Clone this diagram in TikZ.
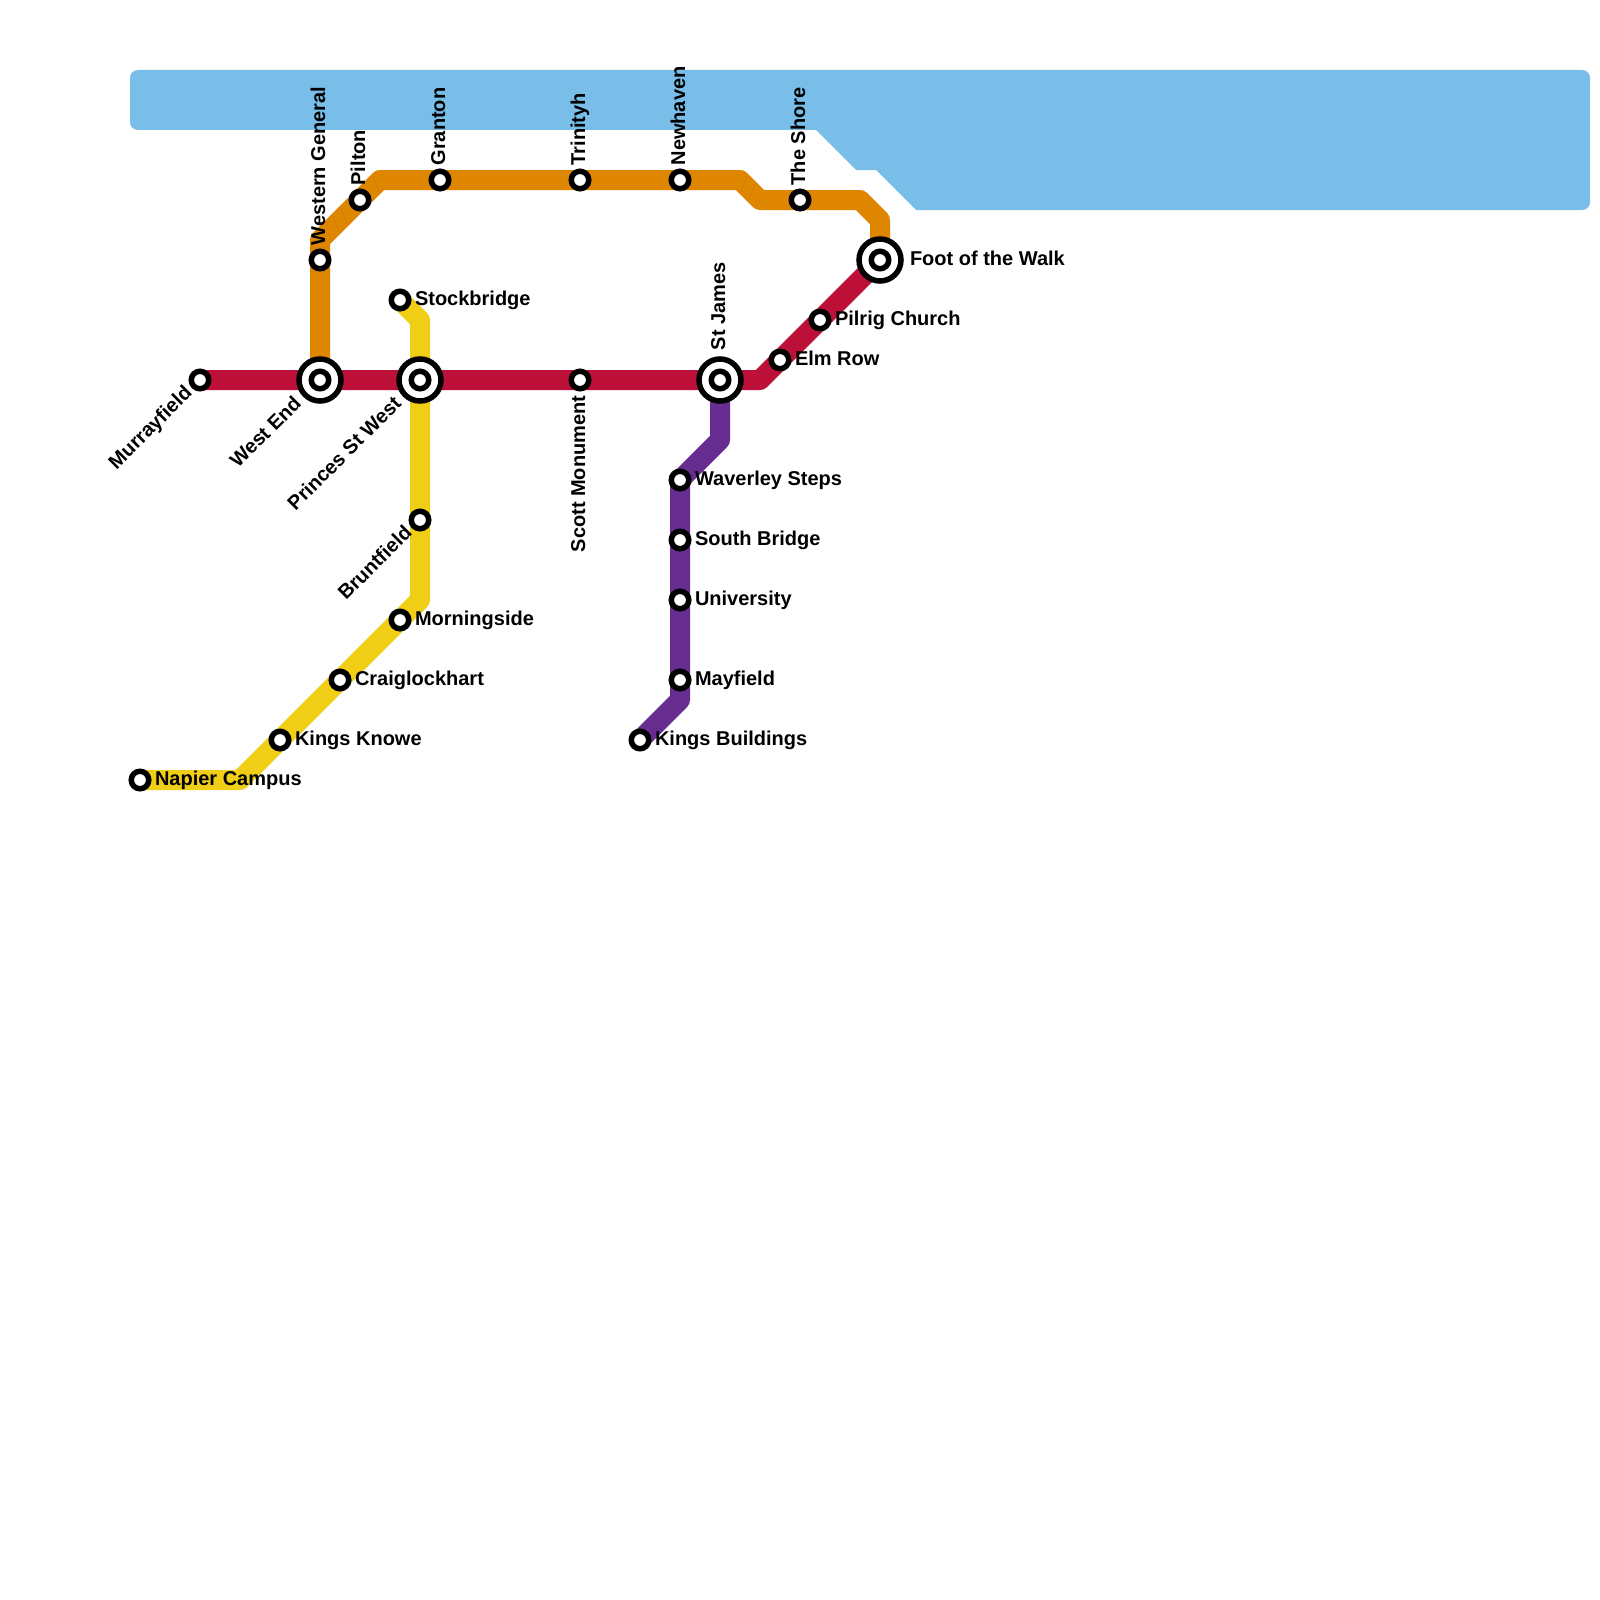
\documentclass[tikz,border=0pt]{standalone}
\usepackage{fontspec}
\setmainfont{Liberation Sans}
\definecolor{water}{HTML}{79BDE9}
\definecolor{orangeline}{HTML}{DF8600}
\definecolor{redline}{HTML}{BD1038}
\definecolor{yellowline}{HTML}{F0CE15}
\definecolor{purpleline}{HTML}{662C90}
\tikzset{
  metro/.style={line width=10pt,line join=round},
  stn/.style={circle,draw=black,fill=white,line width=2.75pt,minimum size=8.75pt,inner sep=0pt,outer sep=0pt},
  hubring/.style={circle,draw=black,fill=white,line width=2.75pt,minimum size=21pt,inner sep=0pt,outer sep=0pt},
  lab/.style={font=\fontsize{10pt}{12pt}\bfseries,inner sep=0pt,outer sep=0pt,text=black},
  labright/.style={lab,anchor=base west,xshift=7.5pt,yshift=-2.7pt},
  labrighthub/.style={lab,anchor=base west,xshift=15pt,yshift=-2.7pt},
  labup/.style={lab,xshift=2.5pt,yshift=7.3pt,rotate=90,anchor=base west},
  labuphub/.style={lab,xshift=2.5pt,yshift=15pt,rotate=90,anchor=base west},
  labdown/.style={lab,xshift=2.5pt,yshift=-7.8pt,rotate=90,anchor=base east},
  labdiag/.style={lab,xshift=-3.54pt,yshift=-7.07pt,rotate=45,anchor=base east},
  labdiaghub/.style={lab,xshift=-8.84pt,yshift=-12.37pt,rotate=45,anchor=base east},
}
\begin{document}
\begin{tikzpicture}[x=0.5pt,y=-0.5pt]
\useasboundingbox (0,0) rectangle (1600,1600);
% water
\fill[water,rounded corners=4pt] (300,70) -- (1590,70) -- (1590,210) [sharp corners] -- (916,210) -- (876,170) -- (856,170) -- (816,130) [rounded corners=4pt] -- (130,130) -- (130,70) -- cycle;
% station positions
\coordinate (murrayfield) at (200,380);
\coordinate (westend) at (320,380);
\coordinate (princes) at (420,380);
\coordinate (scott) at (580,380);
\coordinate (stjames) at (720,380);
\coordinate (elmrow) at (780,360);
\coordinate (pilrig) at (820,320);
\coordinate (foot) at (880,260);
\coordinate (western) at (320,260);
\coordinate (pilton) at (360,200);
\coordinate (granton) at (440,180);
\coordinate (trinityh) at (580,180);
\coordinate (newhaven) at (680,180);
\coordinate (shore) at (800,200);
\coordinate (stockbridge) at (400,300);
\coordinate (bruntfield) at (420,520);
\coordinate (morningside) at (400,620);
\coordinate (craiglockhart) at (340,680);
\coordinate (kingsknowe) at (280,740);
\coordinate (napier) at (140,780);
\coordinate (waverley) at (680,480);
\coordinate (southbridge) at (680,540);
\coordinate (university) at (680,600);
\coordinate (mayfield) at (680,680);
\coordinate (kingsbuildings) at (640,740);
% bends
\coordinate (o1) at (320,240);
\coordinate (o2) at (380,180);
\coordinate (o3) at (740,180);
\coordinate (o4) at (760,200);
\coordinate (o5) at (860,200);
\coordinate (o6) at (880,220);
\coordinate (r1) at (760,380);
\coordinate (y1) at (420,320);
\coordinate (y2) at (420,600);
\coordinate (y3) at (240,780);
\coordinate (p1) at (720,440);
\coordinate (p2) at (680,700);
% lines
\draw[metro,yellowline] (stockbridge) -- (y1) -- (princes) -- (bruntfield) -- (y2) -- (morningside) -- (craiglockhart) -- (kingsknowe) -- (y3) -- (napier);
\draw[metro,purpleline] (stjames) -- (p1) -- (waverley) -- (southbridge) -- (university) -- (mayfield) -- (p2) -- (kingsbuildings);
\draw[metro,orangeline] (westend) -- (western) -- (o1) -- (pilton) -- (o2) -- (granton) -- (trinityh) -- (newhaven) -- (o3) -- (o4) -- (shore) -- (o5) -- (o6) -- (foot);
\draw[metro,redline] (murrayfield) -- (westend) -- (princes) -- (scott) -- (stjames) -- (r1) -- (elmrow) -- (pilrig) -- (foot);
% interchange rings
\node[hubring] (ringwestend) at (westend) {};
\node[hubring] (ringprinces) at (princes) {};
\node[hubring] (ringstjames) at (stjames) {};
\node[hubring] (ringfoot) at (foot) {};
% stations
\foreach \s in {murrayfield,westend,princes,scott,stjames,elmrow,pilrig,foot,western,pilton,granton,trinityh,newhaven,shore,stockbridge,bruntfield,morningside,craiglockhart,kingsknowe,napier,waverley,southbridge,university,mayfield,kingsbuildings}
  \node[stn] (st\s) at (\s) {};
% labels
\node[labdiag] (lmurrayfield) at (murrayfield) {Murrayfield};
\node[labdiaghub] (lwestend) at (westend) {West End};
\node[labdiaghub] (lprinces) at (princes) {Princes St West};
\node[labdown] (lscott) at (scott) {Scott Monument};
\node[labuphub] (lstjames) at (stjames) {St James};
\node[labright] (lelmrow) at (elmrow) {Elm Row};
\node[labright] (lpilrig) at (pilrig) {Pilrig Church};
\node[labrighthub] (lfoot) at (foot) {Foot of the Walk};
\node[labup] (lwestern) at (western) {Western General};
\node[labup] (lpilton) at (pilton) {Pilton};
\node[labup] (lgranton) at (granton) {Granton};
\node[labup] (ltrinityh) at (trinityh) {Trinityh};
\node[labup] (lnewhaven) at (newhaven) {Newhaven};
\node[labup] (lshore) at (shore) {The Shore};
\node[labright] (lstockbridge) at (stockbridge) {Stockbridge};
\node[labdiag] (lbruntfield) at (bruntfield) {Bruntfield};
\node[labright] (lmorningside) at (morningside) {Morningside};
\node[labright] (lcraiglockhart) at (craiglockhart) {Craiglockhart};
\node[labright] (lkingsknowe) at (kingsknowe) {Kings Knowe};
\node[labright] (lnapier) at (napier) {Napier Campus};
\node[labright] (lwaverley) at (waverley) {Waverley Steps};
\node[labright] (lsouthbridge) at (southbridge) {South Bridge};
\node[labright] (luniversity) at (university) {University};
\node[labright] (lmayfield) at (mayfield) {Mayfield};
\node[labright] (lkingsbuildings) at (kingsbuildings) {Kings Buildings};
\end{tikzpicture}
\end{document}
